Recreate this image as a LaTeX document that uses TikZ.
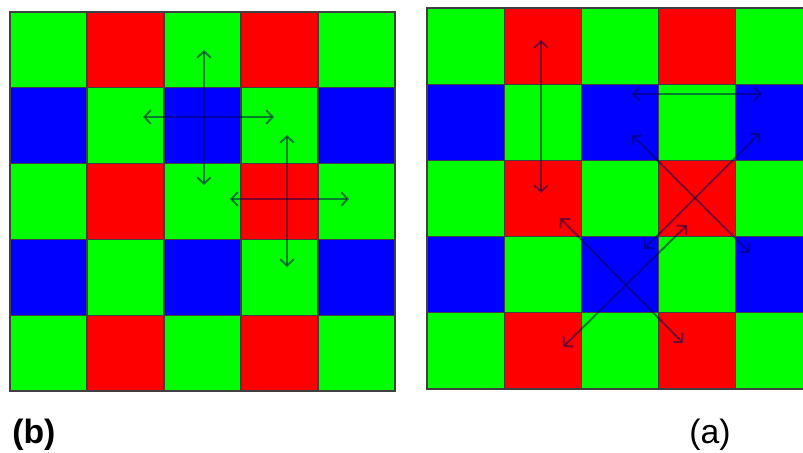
\documentclass[tikz,border=0pt]{standalone}
\usepackage{fontspec}
\setmainfont{Liberation Sans}
\usetikzlibrary{arrows.meta}

\definecolor{pxgreen}{RGB}{0,255,0}
\definecolor{pxred}{RGB}{255,0,0}
\definecolor{pxblue}{RGB}{0,0,255}
\definecolor{inkline}{RGB}{0,0,80}

\tikzset{
  cell/.style={draw=black!75, line width=0.8pt},
  flow/.style={draw=inkline, draw opacity=0.5, line width=1.4pt,
    {Straight Barb[length=1.6mm, width=3.4mm]}-{Straight Barb[length=1.6mm, width=3.4mm]}},
  caption/.style={inner sep=0pt, font=\fontsize{24}{28}\selectfont},
}

\begin{document}
\begin{tikzpicture}[x=0.025cm, y=-0.025cm]
  \useasboundingbox (0,0) rectangle (803,453);
  \clip (0,0) rectangle (803,453);

  % the two mosaics
  \foreach \gx/\gy/\gw/\gh in {10/12/77/75.8, 427/8/77.2/76.2}
    \foreach \r/\cols in {0/{pxgreen,pxred,pxgreen,pxred,pxgreen},
                          1/{pxblue,pxgreen,pxblue,pxgreen,pxblue},
                          2/{pxgreen,pxred,pxgreen,pxred,pxgreen},
                          3/{pxblue,pxgreen,pxblue,pxgreen,pxblue},
                          4/{pxgreen,pxred,pxgreen,pxred,pxgreen}}
      \foreach \cc [count=\c from 0] in \cols
        \draw[cell, fill=\cc] (\gx+\gw*\c, \gy+\gh*\r) rectangle ++(\gw,\gh);

  % left: crosses
  \draw[flow] (204,50) -- (204,185);
  \draw[flow] (143,117) -- (274,117);
  \draw[flow] (287,135) -- (287,267);
  \draw[flow] (230,199) -- (349,199);

  % right: vertical, horizontal and diagonals
  \draw[flow] (541,40) -- (541,193);
  \draw[flow] (632,94) -- (762,94);
  \draw[flow] (632,135) -- (750,253);
  \draw[flow] (760,133) -- (644,249);
  \draw[flow] (560,218) -- (683,343);
  \draw[flow] (563,347) -- (687,225);

  \node[caption, anchor=west] (capb) at (12,435) {\bfseries (b)};
  \node[caption] (capa) at (710,435) {(a)};
\end{tikzpicture}
\end{document}
